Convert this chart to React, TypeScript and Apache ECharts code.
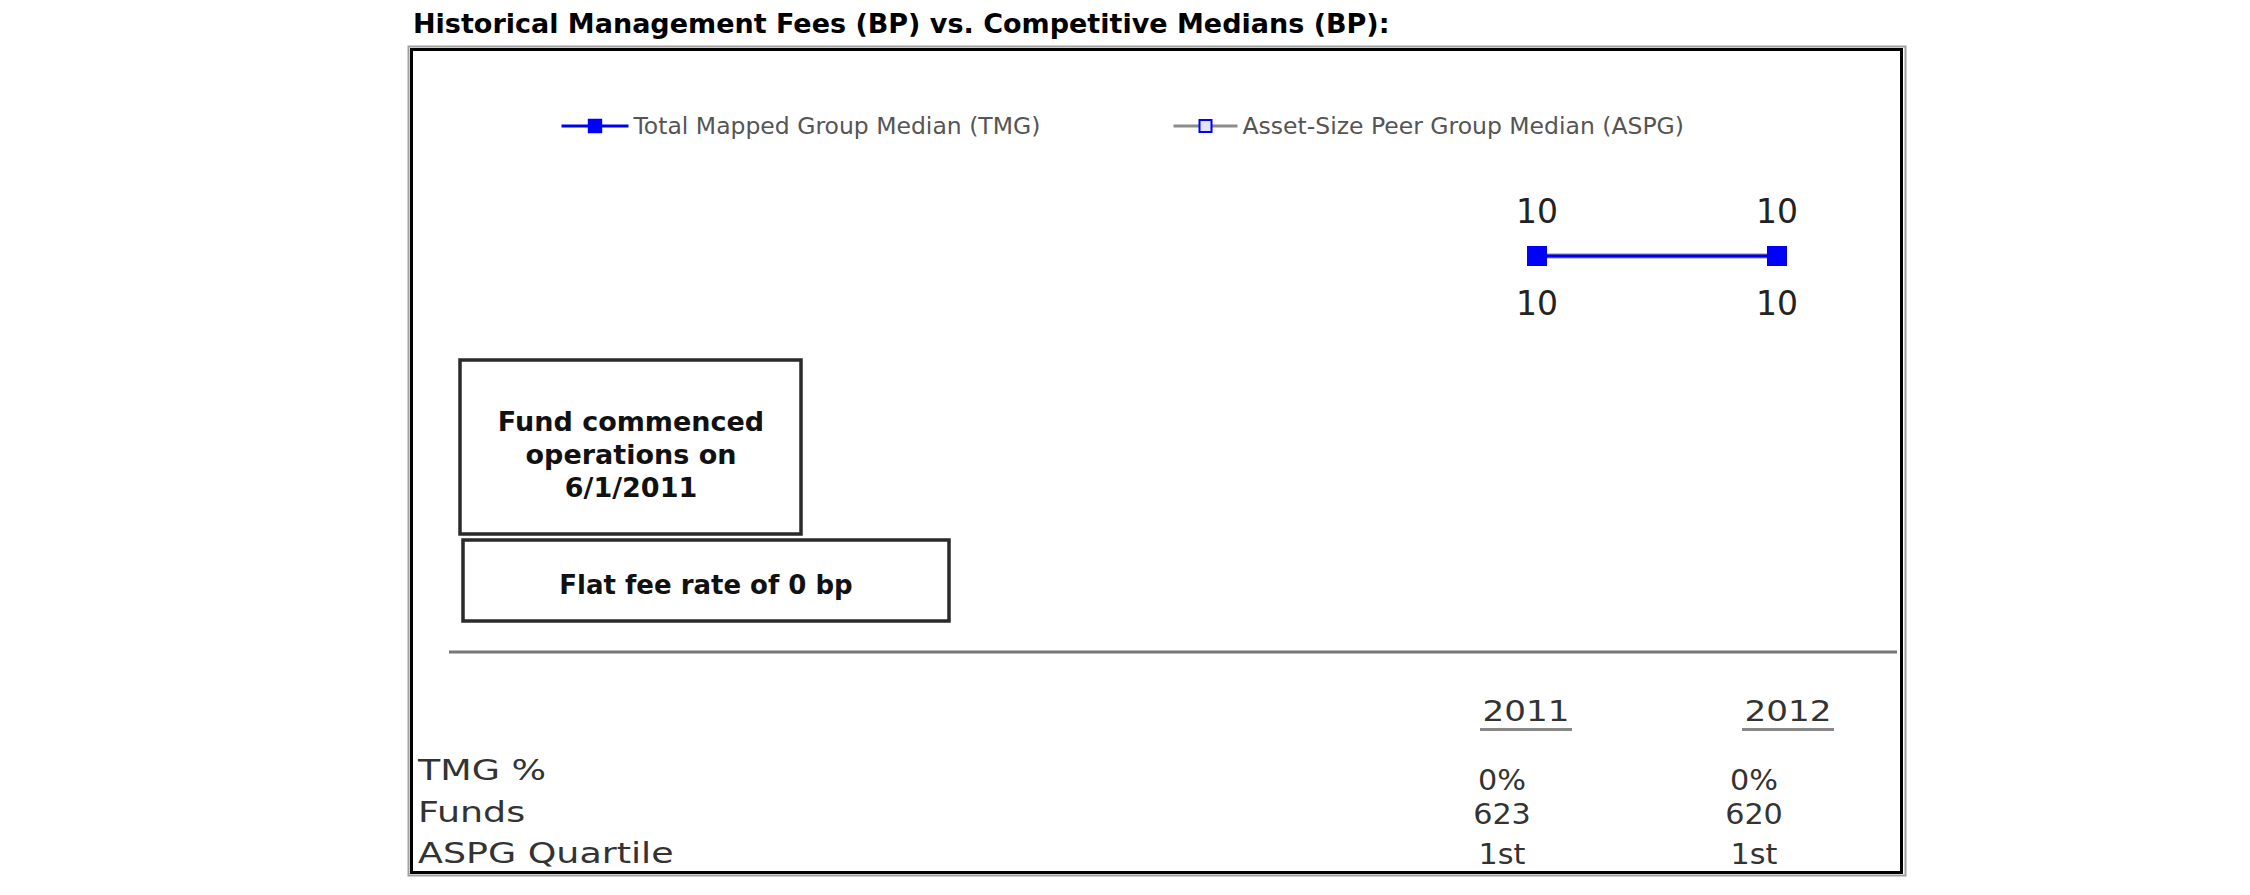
import React, { useEffect, useRef } from "react";
import * as echarts from "echarts";

const FONT = "'DejaVu Sans', Verdana, sans-serif";

const titleText = "Historical Management Fees (BP) vs. Competitive Medians (BP):";
const years = ["2011", "2012"];
const tmgName = "Total Mapped Group Median (TMG)";
const aspgName = "Asset-Size Peer Group Median (ASPG)";
const tmgValues = [10, 10];
const aspgValues = [10, 10];
const noteLines = ["Fund commenced", "operations on", "6/1/2011"];
const flatFeeNote = "Flat fee rate of 0 bp";
const rowLabels = ["TMG %", "Funds", "ASPG Quartile"];
const tmgPct = ["0%", "0%"];
const fundCounts = ["623", "620"];
const aspgQuartile = ["1st", "1st"];

// layout
const HEADER_X = [1526, 1788];
const VALUE_X = [1502, 1754];
const LABEL_Y = [771, 813, 854];
const VALUE_Y = [780, 814, 854];

export default function App() {
  const ref = useRef<HTMLDivElement>(null);
  useEffect(() => {
    if (!ref.current) return;
    const chart = echarts.init(ref.current, undefined, { renderer: "svg" });
    const tableRows = [tmgPct, fundCounts, aspgQuartile];
    const graphics: any[] = [
      {
        type: "rect",
        shape: { x: 408.5, y: 46.5, width: 1497, height: 829 },
        style: { fill: "none", stroke: "#a0a0a0", lineWidth: 2 },
        silent: true,
      },
      {
        type: "rect",
        shape: { x: 411.5, y: 49.5, width: 1490, height: 823 },
        style: { fill: "none", stroke: "#000", lineWidth: 3 },
        silent: true,
      },
      {
        type: "rect",
        shape: { x: 460, y: 360, width: 341, height: 174 },
        style: { fill: "#fff", stroke: "#2a2a2a", lineWidth: 3.5 },
      },
      {
        type: "rect",
        shape: { x: 463, y: 540, width: 486, height: 81 },
        style: { fill: "#fff", stroke: "#2a2a2a", lineWidth: 3.5 },
      },
      {
        type: "line",
        shape: { x1: 449, y1: 652, x2: 1897, y2: 652 },
        style: { stroke: "#777", lineWidth: 3 },
      },
    ];
    noteLines.forEach((t, i) => {
      graphics.push({
        type: "text",
        x: 631,
        y: 421 + i * 33,
        style: {
          text: t,
          fontFamily: FONT,
          fontWeight: "bold",
          fontSize: 27,
          fill: "#111",
          textAlign: "center",
          verticalAlign: "middle",
        },
      });
    });
    graphics.push({
      type: "text",
      x: 706,
      y: 585,
      style: {
        text: flatFeeNote,
        fontFamily: FONT,
        fontWeight: "bold",
        fontSize: 26,
        fill: "#111",
        textAlign: "center",
        verticalAlign: "middle",
      },
    });
    years.forEach((y, i) => {
      graphics.push({
        type: "text",
        x: HEADER_X[i],
        y: 711,
        scaleX: 1.18,
        style: {
          text: y,
          fontFamily: FONT,
          fontSize: 29,
          fill: "#333",
          textAlign: "center",
          verticalAlign: "middle",
        },
      });
      graphics.push({
        type: "rect",
        shape: { x: HEADER_X[i] - 46, y: 728, width: 92, height: 3 },
        style: { fill: "#888" },
      });
    });
    rowLabels.forEach((t, r) => {
      graphics.push({
        type: "text",
        x: 418,
        y: LABEL_Y[r],
        scaleX: 1.3,
        style: {
          text: t,
          fontFamily: FONT,
          fontSize: 28,
          fill: "#333",
          textAlign: "left",
          verticalAlign: "middle",
        },
      });
      tableRows[r].forEach((v, c) => {
        graphics.push({
          type: "text",
          x: VALUE_X[c],
          y: VALUE_Y[r],
          scaleX: 1.08,
          style: {
            text: v,
            fontFamily: FONT,
            fontSize: 28,
            fill: "#333",
            textAlign: "center",
            verticalAlign: "middle",
          },
        });
      });
    });

    chart.setOption({
      animation: false,
      backgroundColor: "#fff",
      title: {
        text: titleText,
        left: 413,
        top: 10,
        padding: 0,
        textStyle: { fontFamily: FONT, fontWeight: "bold", fontSize: 27, color: "#000" },
      },
      legend: [
        {
          data: [tmgName],
          left: 560,
          top: 114,
          padding: 0,
          itemWidth: 67,
          itemHeight: 18,
          lineStyle: { width: 3 },
          textStyle: { fontFamily: FONT, fontSize: 23.5, color: "#555" },
        },
        {
          data: [aspgName],
          left: 1172,
          top: 114,
          padding: 0,
          itemWidth: 64,
          itemHeight: 15,
          lineStyle: { width: 3 },
          textStyle: { fontFamily: FONT, fontSize: 23.5, color: "#555" },
        },
      ],
      grid: { left: 1417, width: 480, top: 156, height: 200 },
      xAxis: { type: "category", data: years, show: false, boundaryGap: true },
      yAxis: { type: "value", min: 0, max: 20, show: false },
      series: [
        {
          name: aspgName,
          type: "line",
          data: aspgValues,
          symbol: "rect",
          symbolSize: 12,
          z: 1,
          itemStyle: { color: "#e4e4f4", borderColor: "#0000ff", borderWidth: 2 },
          lineStyle: { color: "#8c8c8c", width: 5 },
          label: {
            show: true,
            position: "bottom",
            distance: 24,
            fontFamily: FONT,
            fontSize: 33,
            color: "#222",
          },
        },
        {
          name: tmgName,
          type: "line",
          data: tmgValues,
          symbol: "rect",
          symbolSize: 20,
          z: 2,
          itemStyle: { color: "#0000ff" },
          lineStyle: { color: "#0000ee", width: 3 },
          label: {
            show: true,
            position: "top",
            distance: 18,
            fontFamily: FONT,
            fontSize: 33,
            color: "#222",
          },
        },
      ],
      graphic: graphics,
    });
    return () => chart.dispose();
  }, []);
  return (
    <div
      ref={ref}
      style={{ position: "fixed", left: 0, top: 0, width: 2250, height: 895, background: "#fff" }}
    />
  );
}
